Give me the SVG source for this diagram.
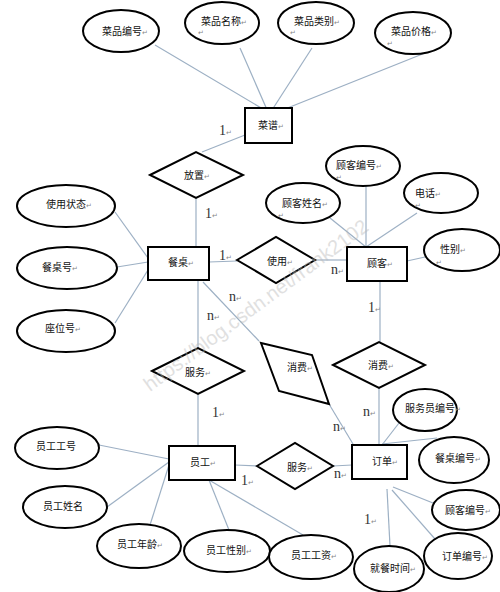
<svg xmlns="http://www.w3.org/2000/svg" width="500" height="592" viewBox="0 0 500 592">
<defs>
<style>
.sh{fill:#fff;stroke:#000;stroke-width:2}
.ln{stroke:#9db0c4;stroke-width:1.2;fill:none}
.t{font-family:"Noto Sans CJK SC","Noto Sans",sans-serif;font-size:10px;fill:#111}
.m{font-family:"DejaVu Sans",sans-serif;font-size:7px;fill:#888}
.c{font-family:"Liberation Serif",serif;font-size:14px;fill:#333}
.wm{font-family:"Liberation Sans",sans-serif;font-size:20px;fill:#bbb;opacity:0.45}
</style>
</defs>
<rect width="500" height="592" fill="#fff"/>
<g id="connectors">
<line class="ln" x1="155" y1="45" x2="268" y2="112"/>
<line class="ln" x1="240" y1="48" x2="268" y2="112"/>
<line class="ln" x1="312" y1="48" x2="272" y2="110"/>
<line class="ln" x1="425" y1="53" x2="270" y2="115"/>
<line class="ln" x1="245" y1="135" x2="202" y2="152"/>
<line class="ln" x1="196" y1="198" x2="196" y2="247"/>
<line class="ln" x1="115" y1="212" x2="148" y2="258"/>
<line class="ln" x1="117" y1="267" x2="148" y2="262"/>
<line class="ln" x1="115" y1="323" x2="148" y2="270"/>
<line class="ln" x1="209" y1="262" x2="237" y2="261"/>
<line class="ln" x1="315" y1="260" x2="347" y2="260"/>
<line class="ln" x1="198" y1="280" x2="198" y2="348"/>
<line class="ln" x1="203" y1="282" x2="259" y2="341"/>
<line class="ln" x1="366" y1="186" x2="366" y2="247"/>
<line class="ln" x1="330" y1="218" x2="366" y2="247"/>
<line class="ln" x1="417" y1="213" x2="366" y2="247"/>
<line class="ln" x1="425" y1="257" x2="407" y2="261"/>
<line class="ln" x1="380" y1="281" x2="380" y2="342"/>
<line class="ln" x1="379" y1="388" x2="379" y2="445"/>
<line class="ln" x1="329" y1="404" x2="353" y2="444"/>
<line class="ln" x1="198" y1="394" x2="198" y2="446"/>
<line class="ln" x1="99" y1="445" x2="169" y2="459"/>
<line class="ln" x1="107" y1="507" x2="169" y2="462"/>
<line class="ln" x1="150" y1="525" x2="169" y2="465"/>
<line class="ln" x1="209" y1="480" x2="229" y2="530"/>
<line class="ln" x1="209" y1="480" x2="303" y2="535"/>
<line class="ln" x1="235" y1="465" x2="257" y2="466"/>
<line class="ln" x1="333" y1="466" x2="352" y2="465"/>
<line class="ln" x1="399" y1="423" x2="382" y2="445"/>
<line class="ln" x1="382" y1="444" x2="437" y2="438"/>
<line class="ln" x1="393" y1="487" x2="433" y2="503"/>
<line class="ln" x1="392" y1="490" x2="435" y2="539"/>
<line class="ln" x1="387" y1="489" x2="390" y2="546"/>
</g>
<g id="caipin_bianhao"><ellipse class="sh" cx="121" cy="31" rx="38" ry="21"/><text class="t" x="102" y="35">菜品编号<tspan class="m">↵</tspan></text></g>
<g id="caipin_mingcheng"><ellipse class="sh" cx="222" cy="23" rx="37" ry="21"/><text class="t" x="201" y="25">菜品名称<tspan class="m">↵</tspan></text><text class="m" x="198" y="35">↵</text></g>
<g id="caipin_leibie"><ellipse class="sh" cx="316" cy="23" rx="38" ry="21"/><text class="t" x="294" y="25">菜品类别<tspan class="m">↵</tspan></text><text class="m" x="290" y="35">↵</text></g>
<g id="caipin_jiage"><ellipse class="sh" cx="413" cy="33" rx="38" ry="21"/><text class="t" x="391" y="35">菜品价格<tspan class="m">↵</tspan></text><text class="m" x="387" y="46">↵</text></g>
<g id="caipu"><rect class="sh" x="245" y="108" width="47" height="35"/><text class="t" x="258" y="129">菜谱<tspan class="m">↵</tspan></text></g>
<g id="fangzhi"><polygon class="sh" points="150,175 196,152 243,175 196,198"/><text class="t" x="184" y="179">放置<tspan class="m">↵</tspan></text></g>
<g id="shiyong_zhuangtai"><ellipse class="sh" cx="66" cy="206" rx="49" ry="21"/><text class="t" x="46" y="208">使用状态<tspan class="m">↵</tspan></text></g>
<g id="canzhuo_hao"><ellipse class="sh" cx="67" cy="268" rx="50" ry="21"/><text class="t" x="42" y="271">餐桌号<tspan class="m">↵</tspan></text></g>
<g id="zuowei_hao"><ellipse class="sh" cx="66" cy="331" rx="49" ry="21"/><text class="t" x="45" y="332">座位号<tspan class="m">↵</tspan></text></g>
<g id="canzhuo"><rect class="sh" x="148" y="247" width="61" height="33"/><text class="t" x="168" y="266">餐桌<tspan class="m">↵</tspan></text></g>
<g id="shiyong"><polygon class="sh" points="237,260 276,237 315,260 276,283"/><text class="t" x="267" y="265">使用<tspan class="m">↵</tspan></text></g>
<g id="guke"><rect class="sh" x="347" y="247" width="60" height="34"/><text class="t" x="367" y="267">顾客<tspan class="m">↵</tspan></text></g>
<g id="guke_bianhao"><ellipse class="sh" cx="363" cy="166" rx="37" ry="20"/><text class="t" x="336" y="169">顾客编号<tspan class="m">↵</tspan></text><text class="m" x="336" y="180">↵</text></g>
<g id="guke_xingming"><ellipse class="sh" cx="303" cy="203" rx="37" ry="20"/><text class="t" x="282" y="207">顾客姓名<tspan class="m">↵</tspan></text><text class="m" x="278" y="218">↵</text></g>
<g id="dianhua"><ellipse class="sh" cx="441" cy="193" rx="37" ry="20"/><text class="t" x="415" y="197">电话<tspan class="m">↵</tspan></text><text class="m" x="415" y="208">↵</text></g>
<g id="xingbie"><ellipse class="sh" cx="462" cy="250" rx="38" ry="21"/><text class="t" x="440" y="253">性别<tspan class="m">↵</tspan></text><text class="m" x="436" y="265">↵</text></g>
<g id="fuwu1"><polygon class="sh" points="152,371 198,348 244,371 198,394"/><text class="t" x="185" y="376">服务<tspan class="m">↵</tspan></text></g>
<g id="xiaofei1"><polygon class="sh" points="261,343 312,355 329,404 279,391"/><text class="t" x="287" y="371">消费<tspan class="m">↵</tspan></text></g>
<g id="xiaofei2"><polygon class="sh" points="333,365 379,342 425,365 379,388"/><text class="t" x="368" y="369">消费<tspan class="m">↵</tspan></text></g>
<g id="yuangong"><rect class="sh" x="169" y="446" width="66" height="34"/><text class="t" x="190" y="466">员工<tspan class="m">↵</tspan></text></g>
<g id="yuangong_gonghao"><ellipse class="sh" cx="57" cy="448" rx="42" ry="21"/><text class="t" x="36" y="450">员工工号</text></g>
<g id="yuangong_xingming"><ellipse class="sh" cx="65" cy="507" rx="42" ry="21"/><text class="t" x="43" y="510">员工姓名</text></g>
<g id="yuangong_nianling"><ellipse class="sh" cx="139" cy="546" rx="42" ry="22"/><text class="t" x="117" y="548">员工年龄<tspan class="m">↵</tspan></text></g>
<g id="yuangong_xingbie"><ellipse class="sh" cx="227" cy="551" rx="43" ry="21"/><text class="t" x="206" y="554">员工性别<tspan class="m">↵</tspan></text></g>
<g id="yuangong_gongzi"><ellipse class="sh" cx="311" cy="557" rx="42" ry="22"/><text class="t" x="291" y="559">员工工资<tspan class="m">↵</tspan></text></g>
<g id="fuwu2"><polygon class="sh" points="257,466 295,443 333,466 295,489"/><text class="t" x="287" y="471">服务<tspan class="m">↵</tspan></text></g>
<g id="dingdan"><rect class="sh" x="352" y="445" width="55" height="34"/><text class="t" x="372" y="465">订单<tspan class="m">↵</tspan></text></g>
<g id="fuwuyuan_bianhao"><ellipse class="sh" cx="425" cy="410" rx="32" ry="21"/><text class="t" x="405" y="412">服务员编号<tspan class="m">↵</tspan></text></g>
<g id="canzhuo_bianhao"><ellipse class="sh" cx="454" cy="460" rx="35" ry="23"/><text class="t" x="435" y="462">餐桌编号<tspan class="m">↵</tspan></text></g>
<g id="guke_bianhao2"><ellipse class="sh" cx="466" cy="510" rx="34" ry="20"/><text class="t" x="445" y="514">顾客编号<tspan class="m">↵</tspan></text></g>
<g id="dingdan_bianhao"><ellipse class="sh" cx="458" cy="556" rx="34" ry="23"/><text class="t" x="442" y="560">订单编号<tspan class="m">↵</tspan></text></g>
<g id="jiucan_shijian"><ellipse class="sh" cx="389" cy="569" rx="35" ry="23"/><text class="t" x="370" y="572">就餐时间<tspan class="m">↵</tspan></text></g>
<g id="cardinalities">
<text class="c" x="219" y="135">1<tspan class="m">↵</tspan></text>
<text class="c" x="205" y="218">1<tspan class="m">↵</tspan></text>
<text class="c" x="219" y="260">1<tspan class="m">↵</tspan></text>
<text class="c" x="229" y="301">n<tspan class="m">↵</tspan></text>
<text class="c" x="207" y="320">n<tspan class="m">↵</tspan></text>
<text class="c" x="331" y="274">n<tspan class="m">↵</tspan></text>
<text class="c" x="368" y="312">1<tspan class="m">↵</tspan></text>
<text class="c" x="363" y="416">n<tspan class="m">↵</tspan></text>
<text class="c" x="333" y="431">n<tspan class="m">↵</tspan></text>
<text class="c" x="212" y="417">1<tspan class="m">↵</tspan></text>
<text class="c" x="241" y="485">1<tspan class="m">↵</tspan></text>
<text class="c" x="334" y="478">n<tspan class="m">↵</tspan></text>
<text class="c" x="364" y="524">1<tspan class="m">↵</tspan></text>
</g>
<text class="wm" transform="translate(150,392) rotate(-36.5)">https://blog.csdn.net/frank2102</text>
</svg>
